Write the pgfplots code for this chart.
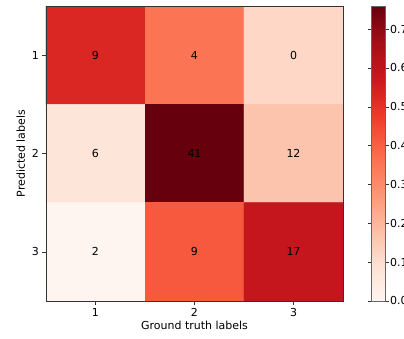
\documentclass[border=0pt]{standalone}
\usepackage{pgfplots}
\pgfplotsset{compat=1.18}
\usepackage{pgfplotstable}
\usepackage{fontspec}
\setmainfont{DejaVu Sans}
\pgfplotstableread{
x y c
1 1 0.5294
2 1 0.3529
3 1 0.1176
1 2 0.0741
2 2 0.7593
3 2 0.1667
1 3 0.0
2 3 0.4138
3 3 0.5862
}\cells
\pgfplotstableread{
x y n
1 1 9
2 1 4
3 1 0
1 2 6
2 2 41
3 2 12
1 3 2
2 3 9
3 3 17
}\counts
\begin{document}
\begin{tikzpicture}
\pgfplotsset{
  colormap={reds}{rgb255=(255,245,240) rgb255=(254,224,210) rgb255=(252,187,161) rgb255=(252,146,114) rgb255=(251,106,74) rgb255=(239,59,44) rgb255=(203,24,29) rgb255=(165,15,21) rgb255=(103,0,13)}
}
\begin{axis}[
  name=main,
  scale only axis,
  width=297pt, height=295pt,
  xmin=0.5, xmax=3.5, ymin=0.5, ymax=3.5,
  y dir=reverse,
  xtick={1,2,3}, ytick={1,2,3},
  tick align=outside, tick pos=left,
  major tick length=3.5pt,
  axis line style={black!80},
  every tick/.style={black!80},
  font=\fontsize{11}{13}\selectfont,
  ticklabel style={font=\fontsize{11}{13}\selectfont},
  /pgf/number format/assume math mode=true,
  xlabel={Ground truth labels},
  ylabel={Predicted labels},
  xlabel style={yshift=2pt},
  point meta min=0, point meta max=0.7593,
  colormap name=reds,
  colorbar,
  colorbar style={
    at={(parent axis.north east)}, anchor=north west, xshift=20pt,
    width=14pt,
    ytick={0,0.1,...,0.7},
    /pgf/number format/fixed,
    /pgf/number format/fixed zerofill,
    /pgf/number format/precision=1,
    /pgf/number format/assume math mode=true,
    yticklabel style={font=\fontsize{11}{13}\selectfont, inner xsep=1pt, anchor=west},
    tick align=outside,
    major tick length=3.5pt,
    axis line style={black!60},
  },
  enlargelimits=false,
  axis on top,
]
\addplot[matrix plot*, mesh/cols=3, point meta=explicit] table[meta=c] {\cells};
\addplot[only marks, mark=none, nodes near coords, point meta=explicit symbolic,
  nodes near coords align=center,
  every node near coord/.append style={font=\fontsize{11}{13}\selectfont, text=black, anchor=center}]
  table[meta=n] {\counts};
\end{axis}
\pgfresetboundingbox
\path (main.south west) ++(-46pt,-38pt) rectangle ++(404pt,339pt);
\end{tikzpicture}
\end{document}
